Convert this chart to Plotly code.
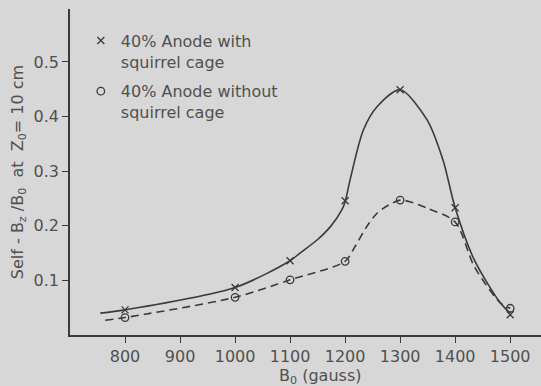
import plotly.graph_objects as go

# Measured data points
b0 = [800, 1000, 1100, 1200, 1300, 1400, 1500]
with_cage = [0.046, 0.087, 0.136, 0.246, 0.449, 0.233, 0.037]
without_cage = [0.032, 0.069, 0.101, 0.135, 0.247, 0.207, 0.049]

# Hand-drawn smooth curves
curve_with_x = [755, 800, 1000, 1100, 1118, 1149, 1173, 1194, 1200, 1209, 1233, 1258, 1300, 1349, 1378, 1400, 1435, 1482, 1500]
curve_with_y = [0.040, 0.046, 0.087, 0.136, 0.150, 0.174, 0.198, 0.229, 0.244, 0.284, 0.375, 0.418, 0.449, 0.394, 0.320, 0.233, 0.137, 0.059, 0.040]
curve_without_x = [764, 800, 1000, 1100, 1200, 1218, 1239, 1258, 1279, 1300, 1318, 1350, 1400, 1435, 1482, 1500]
curve_without_y = [0.027, 0.032, 0.069, 0.101, 0.135, 0.162, 0.198, 0.223, 0.238, 0.247, 0.244, 0.232, 0.207, 0.125, 0.059, 0.049]

x_ticks = [800, 900, 1000, 1100, 1200, 1300, 1400, 1500]
y_ticks = [0.1, 0.2, 0.3, 0.4, 0.5]
y_tick_labels = ["0.1", "0.2", "0.3", "0.4", "0.5"]

ink = "#3a3a3a"
text_col = "#505050"
bg = "#d7d7d7"
font_family = "DejaVu Sans"
sp = "\u00a0"

fig = go.Figure()
fig.add_trace(go.Scatter(x=curve_with_x, y=curve_with_y, mode="lines",
                         line=dict(color=ink, width=1.6, shape="spline", smoothing=0.8),
                         showlegend=False, hoverinfo="skip", legendgroup="a"))
fig.add_trace(go.Scatter(x=curve_without_x, y=curve_without_y, mode="lines",
                         line=dict(color=ink, width=1.6, shape="spline", smoothing=0.8, dash="8px,5px"),
                         showlegend=False, hoverinfo="skip", legendgroup="b"))
fig.add_trace(go.Scatter(x=b0, y=with_cage, mode="markers", legendgroup="a",
                         name="40% Anode with<br>squirrel cage",
                         marker=dict(symbol="x-thin-open", size=7, color=ink, line=dict(color=ink, width=1.3))))
fig.add_trace(go.Scatter(x=b0, y=without_cage, mode="markers", legendgroup="b",
                         name="40% Anode without<br>squirrel cage",
                         marker=dict(symbol="circle-open", size=7.5, color=ink, line=dict(color=ink, width=1.3))))

y_title = ("Self" + sp + "-" + sp + "B<sub>z</sub>" + sp + "/B<sub>0</sub>" + sp * 2 + "at" + sp * 2
           + "Z<sub>0</sub>=" + sp + "10" + sp + "cm")

fig.update_layout(
    width=541, height=386,
    margin=dict(l=70, r=0, t=9, b=51),
    paper_bgcolor=bg, plot_bgcolor=bg,
    font=dict(family=font_family, size=16, color=text_col),
    showlegend=True,
    legend=dict(x=0.023, y=0.955, xanchor="left", yanchor="top", valign="top",
                bgcolor="rgba(0,0,0,0)", font=dict(size=16, color=text_col),
                tracegroupgap=6),
    xaxis=dict(range=[700, 1556], tickmode="array", tickvals=x_ticks,
               showgrid=False, zeroline=False, showline=True, linecolor=ink, linewidth=1.5,
               ticks="outside", ticklen=6, tickwidth=1.3, tickcolor=ink,
               tickfont=dict(size=16, color=text_col)),
    yaxis=dict(range=[0, 0.597], tickmode="array", tickvals=y_ticks, ticktext=y_tick_labels,
               showgrid=False, zeroline=False, showline=True, linecolor=ink, linewidth=1.5,
               ticks="outside", ticklen=6, tickwidth=1.3, tickcolor=ink,
               tickfont=dict(size=16, color=text_col)),
               
    annotations=[dict(text="B<sub>0</sub> (gauss)", xref="paper", yref="paper",
                      x=0.531, y=0, yshift=-29, xanchor="center", yanchor="top",
                      showarrow=False, font=dict(size=16, color=text_col))],
)
fig.update_yaxes(title=dict(text=y_title, font=dict(size=16, color=text_col), standoff=6))

fig.write_html("out.html", config={"displayModeBar": False},
               post_script="document.body.style.margin='0';document.body.style.background='%s';" % bg)
